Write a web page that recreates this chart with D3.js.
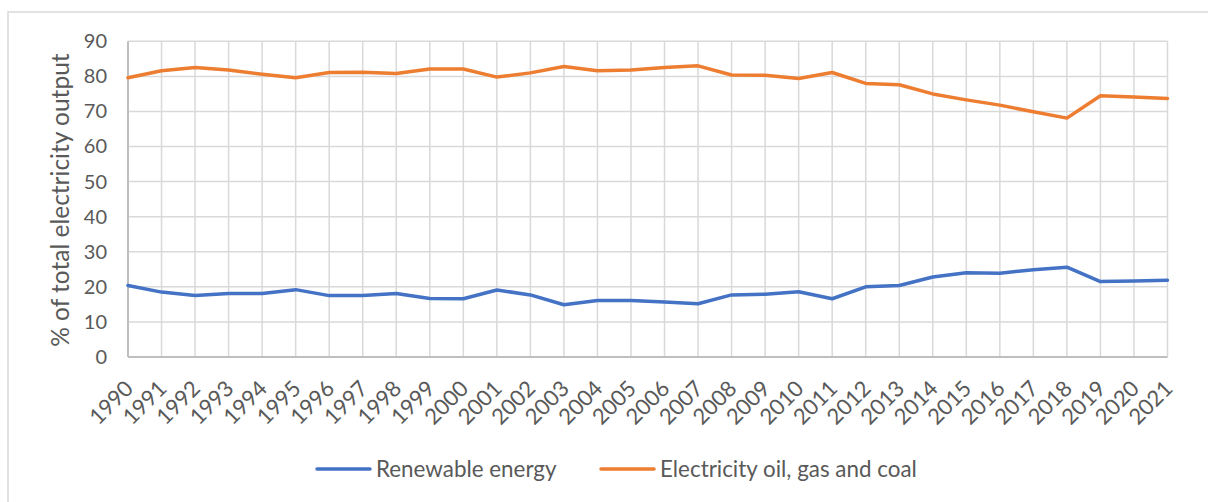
<!DOCTYPE html>
<html>
<head>
<meta charset="utf-8">
<script src="https://cdn.jsdelivr.net/npm/d3@7/dist/d3.min.js"></script>
<style>
  html, body { margin: 0; padding: 0; background: #fff; }
  svg text { font-family: Lato, "Open Sans", "Liberation Sans", sans-serif; fill: #595959; }
</style>
</head>
<body>
<svg id="chart" width="1208" height="502"></svg>
<script>
const years = [1990,1991,1992,1993,1994,1995,1996,1997,1998,1999,2000,2001,2002,2003,2004,2005,2006,2007,2008,2009,2010,2011,2012,2013,2014,2015,2016,2017,2018,2019,2020,2021];
const renewable = [20.4,18.5,17.5,18.1,18.1,19.2,17.5,17.5,18.1,16.7,16.6,19.1,17.7,14.9,16.1,16.1,15.7,15.2,17.7,17.9,18.6,16.6,20.0,20.4,22.8,24.0,23.9,24.9,25.6,21.5,21.7,21.9];
const fossil = [79.6,81.6,82.5,81.8,80.6,79.6,81.1,81.2,80.8,82.1,82.1,79.8,81.0,82.8,81.6,81.8,82.5,83.0,80.4,80.3,79.4,81.1,78.0,77.6,75.0,73.3,71.8,69.9,68.1,74.5,74.1,73.7];
const yTicks = [0,10,20,30,40,50,60,70,80,90];
const seriesNames = ["Renewable energy", "Electricity oil, gas and coal"];
const seriesColors = ["#4472c4", "#ed7d31"];
const yTitle = "% of total electricity output";

const svg = d3.select("#chart");
const pL = 128, pR = 1167.5, pT = 41.3, pB = 357;

// outer chart border (top + left visible)
svg.append("rect").attr("x", 8).attr("y", 12).attr("width", 1300).attr("height", 600)
  .attr("fill", "none").attr("stroke", "#d9d9d9").attr("stroke-width", 1.5);

const x = d3.scalePoint().domain(years).range([pL, pR]);
const y = d3.scaleLinear().domain([0, 90]).range([pB, pT]);

// horizontal grid
svg.append("g").selectAll("line").data(yTicks.filter(d => d > 0)).join("line")
  .attr("x1", pL).attr("x2", pR)
  .attr("y1", d => y(d)).attr("y2", d => y(d))
  .attr("stroke", "#d9d9d9").attr("stroke-width", 1.5);
// vertical grid
svg.append("g").selectAll("line").data(years.slice(1)).join("line")
  .attr("x1", d => x(d)).attr("x2", d => x(d))
  .attr("y1", pT).attr("y2", pB)
  .attr("stroke", "#d9d9d9").attr("stroke-width", 1.5);

// axes lines
svg.append("line").attr("x1", pL).attr("x2", pL).attr("y1", pT).attr("y2", pB)
  .attr("stroke", "#bfbfbf").attr("stroke-width", 2);
svg.append("line").attr("x1", pL).attr("x2", pR).attr("y1", pB).attr("y2", pB)
  .attr("stroke", "#bfbfbf").attr("stroke-width", 2);

// y tick labels
const yAxis = d3.axisLeft(y).tickValues(yTicks).tickSize(0).tickPadding(21);
const gy = svg.append("g").attr("transform", `translate(${pL},0)`).call(yAxis);
gy.select(".domain").remove();
gy.selectAll("text").style("font-size", "20px").attr("fill", "#595959")
  .style("font-family", "Lato, 'Open Sans', sans-serif");

// x tick labels
const xAxis = d3.axisBottom(x).tickSize(0).tickPadding(0);
const gx = svg.append("g").attr("transform", `translate(0,${pB})`).call(xAxis);
gx.select(".domain").remove();
gx.selectAll("text")
  .style("font-size", "22px").attr("fill", "#595959")
  .style("font-family", "Lato, 'Open Sans', sans-serif")
  .attr("text-anchor", "end")
  .attr("dy", null).attr("y", 0)
  .attr("transform", "translate(6,33) rotate(-45)");

// y title
svg.append("text")
  .attr("transform", `translate(69,${(pT+pB)/2 + 1}) rotate(-90)`)
  .attr("text-anchor", "middle")
  .style("font-size", "24.5px")
  .text(yTitle);

// lines
const series = [renewable, fossil];
const line = d3.line().x((d, i) => x(years[i])).y(d => y(d));
series.forEach((s, k) => {
  svg.append("path").datum(s).attr("d", line)
    .attr("fill", "none").attr("stroke", seriesColors[k])
    .attr("stroke-width", 3.5).attr("stroke-linejoin", "round").attr("stroke-linecap", "round");
});

// legend
const legendX = [317, 601];
const lg = svg.append("g");
seriesNames.forEach((n, k) => {
  lg.append("line").attr("x1", legendX[k]).attr("x2", legendX[k] + 53)
    .attr("y1", 469).attr("y2", 469)
    .attr("stroke", seriesColors[k]).attr("stroke-width", 3.5).attr("stroke-linecap", "round");
  lg.append("text").attr("x", legendX[k] + 59).attr("y", 469).attr("dy", "0.35em")
    .style("font-size", "22.4px").text(n);
});
</script>
</body>
</html>
